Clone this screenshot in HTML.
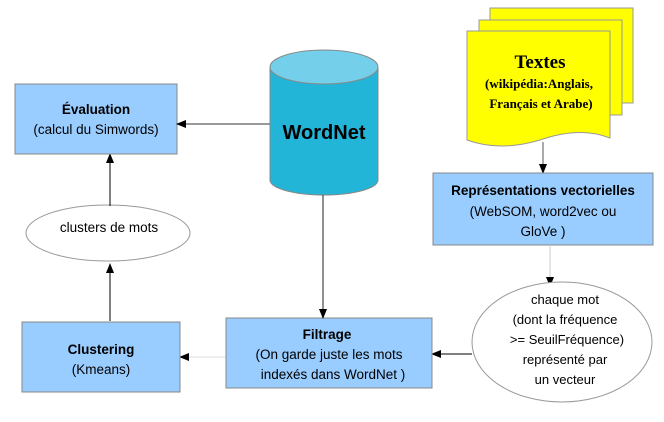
<!DOCTYPE html>
<html><head><meta charset="utf-8"><style>
body{margin:0;background:#fff;}
svg{display:block;font-family:"Liberation Sans",sans-serif;}
</style></head><body>
<svg width="664" height="422" viewBox="0 0 664 422" xmlns="http://www.w3.org/2000/svg">
<defs>
<marker id="a" markerWidth="10" markerHeight="10" refX="9" refY="4" orient="auto" markerUnits="userSpaceOnUse"><path d="M0,0 L10,4 L0,8 z" fill="#000"/></marker>
</defs>
<rect x="490" y="8" width="143" height="95" fill="#ffff00" stroke="#999"/>
<rect x="479" y="20" width="143" height="95" fill="#ffff00" stroke="#999"/>
<path d="M467,31 L610,31 L610,138 Q580,126 540,140 Q500,152 467,140 Z" fill="#ffff00" stroke="#999"/>
<text x="540" y="68" font-family="Liberation Serif,serif" font-weight="bold" font-size="19" text-anchor="middle">Textes</text>
<text x="539" y="88" font-family="Liberation Serif,serif" font-weight="bold" font-size="13" text-anchor="middle">(wikipédia:Anglais,</text>
<text x="541" y="108" font-family="Liberation Serif,serif" font-weight="bold" font-size="13" text-anchor="middle">Français et Arabe)</text>
<line x1="543" y1="142" x2="543" y2="173" stroke="#555" marker-end="url(#a)"/>
<rect x="433" y="173" width="220" height="72" fill="#99ccff" stroke="#888"/>
<text x="543" y="195" font-size="13.5" font-weight="bold" text-anchor="middle">Représentations vectorielles</text>
<text x="543" y="216" font-size="13.5" text-anchor="middle">(WebSOM, word2vec ou</text>
<text x="543" y="236" font-size="13.5" text-anchor="middle">GloVe )</text>
<line x1="550" y1="246" x2="550" y2="286" stroke="#ccc" marker-end="url(#a)"/>
<ellipse cx="562" cy="342" rx="90" ry="60" fill="#fff" stroke="#999"/>
<text x="565" y="304" font-size="13" text-anchor="middle">chaque mot</text>
<text x="565" y="324" font-size="13" text-anchor="middle">(dont la fréquence</text>
<text x="567" y="344" font-size="13" text-anchor="middle">&gt;= SeuilFréquence)</text>
<text x="565" y="364" font-size="13" text-anchor="middle">représenté par</text>
<text x="565" y="384" font-size="13" text-anchor="middle">un vecteur</text>
<line x1="472" y1="354" x2="432" y2="354" stroke="#000" marker-end="url(#a)"/>
<rect x="226" y="318" width="206" height="70" fill="#99ccff" stroke="#888"/>
<text x="327" y="339" font-size="13.5" font-weight="bold" text-anchor="middle">Filtrage</text>
<text x="329" y="359" font-size="13.5" text-anchor="middle">(On garde juste les mots</text>
<text x="333" y="379" font-size="13.5" text-anchor="middle">indexés dans WordNet )</text>
<line x1="225" y1="357" x2="180" y2="357" stroke="#ddd" marker-end="url(#a)"/>
<rect x="22" y="322" width="158" height="70" fill="#99ccff" stroke="#888"/>
<text x="101" y="354" font-size="13.5" font-weight="bold" text-anchor="middle">Clustering</text>
<text x="101" y="374" font-size="13.5" text-anchor="middle">(Kmeans)</text>
<line x1="110" y1="321" x2="110" y2="264" stroke="#000" marker-end="url(#a)"/>
<ellipse cx="108" cy="233" rx="82" ry="28" fill="#fff" stroke="#999"/>
<text x="109" y="232" font-size="13.5" text-anchor="middle">clusters de mots</text>
<line x1="110" y1="206" x2="110" y2="154" stroke="#000" marker-end="url(#a)"/>
<rect x="15" y="84" width="162" height="70" fill="#99ccff" stroke="#888"/>
<text x="96" y="114" font-size="13.5" font-weight="bold" text-anchor="middle">Évaluation</text>
<text x="96" y="134" font-size="13.5" text-anchor="middle">(calcul du Simwords)</text>
<line x1="270" y1="124" x2="177" y2="124" stroke="#333" marker-end="url(#a)"/>
<path d="M270,67 L270,180 A54,15 0 0 0 378,180 L378,67 Z" fill="#22b5d8" stroke="#888"/>
<ellipse cx="324" cy="67" rx="54" ry="17" fill="#74d0ea" stroke="#888"/>
<text x="324" y="139" font-size="20" font-weight="bold" text-anchor="middle">WordNet</text>
<line x1="323" y1="195" x2="323" y2="318" stroke="#222" marker-end="url(#a)"/>
</svg>
</body></html>
